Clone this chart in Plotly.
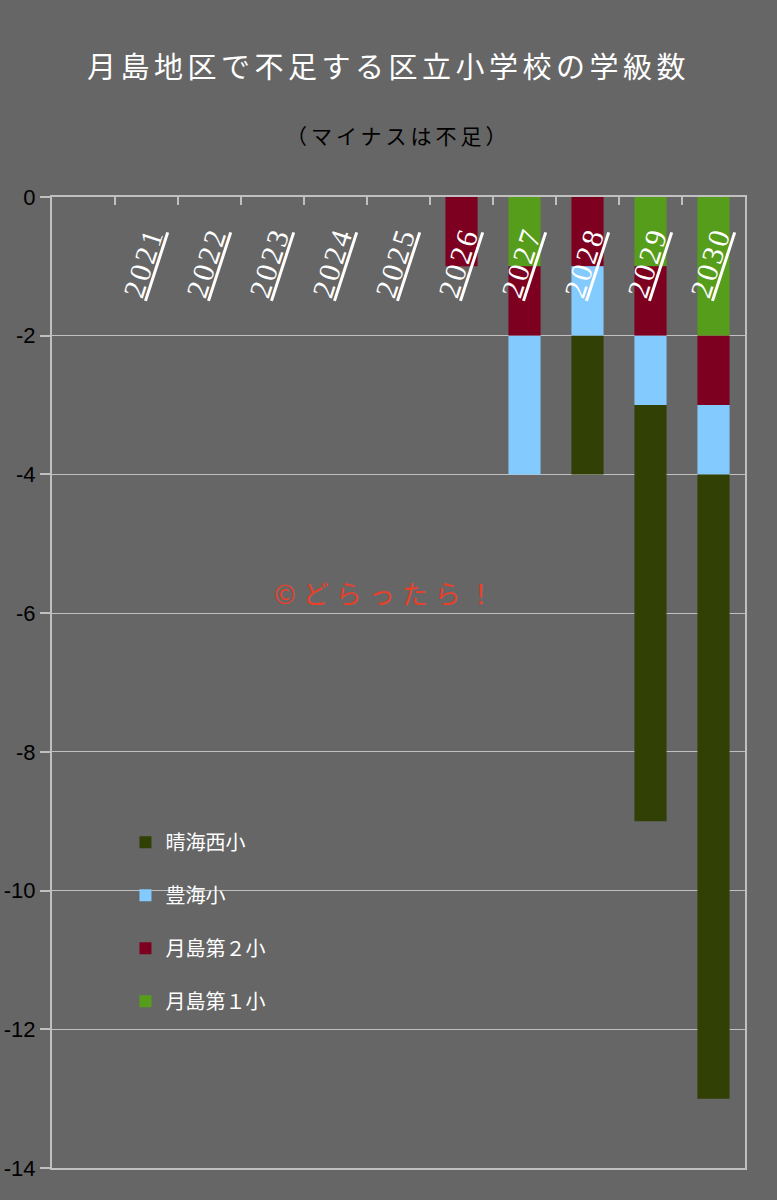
import plotly.graph_objects as go

years = ["2021", "2022", "2023", "2024", "2025", "2026", "2027", "2028", "2029", "2030"]
tsukishima1 = [0, 0, 0, 0, 0, 0, -1, 0, -1, -2]
tsukishima2 = [0, 0, 0, 0, 0, -1, -1, -1, -1, -1]
toyomi = [0, 0, 0, 0, 0, 0, -2, -1, -1, -1]
harumi_nishi = [0, 0, 0, 0, 0, 0, 0, -2, -6, -9]
ytick_vals = [0, -2, -4, -6, -8, -10, -12, -14]
ytick_text = ["0", "-2", "-4", "-6", "-8", "-10", "-12", "-14"]

series = [
    ("月島第１小", tsukishima1, "#579d1c", 4),
    ("月島第２小", tsukishima2, "#7e0021", 3),
    ("豊海小", toyomi, "#83caff", 2),
    ("晴海西小", harumi_nishi, "#314004", 1),
]

xpos = list(range(len(years)))
fig = go.Figure()
for name, vals, col, rank in series:
    fig.add_trace(go.Bar(
        x=xpos, y=vals, name=name, marker=dict(color=col, line=dict(width=0)),
        width=0.51, legendgroup=name, legendrank=rank,
    ))

for i, yr in enumerate(years):
    fig.add_annotation(
        x=i, y=-0.95, xref="x", yref="y",
        text="<span style='text-decoration:underline;text-decoration-thickness:3px;letter-spacing:3px'>" + yr + "</span>",
        textangle=-72, showarrow=False, xshift=-3,
        font=dict(family="Liberation Serif, DejaVu Serif", size=30, color="white"),
    )

fig.add_annotation(
    xref="paper", yref="paper", x=0.4835, y=(1168 - 592) / 971, yanchor="middle",
    text="<span style='letter-spacing:7px'>©どらったら！</span>",
    showarrow=False, font=dict(family="Noto Sans CJK JP", size=26, color="#e8402a"),
)

fig.add_annotation(
    xref="paper", yref="paper", x=0.5, y=1 + (197 - 135) / 971, yanchor="middle",
    text="<span style='letter-spacing:4px'>（マイナスは不足）</span>", showarrow=False,
    font=dict(family="Noto Sans CJK JP", size=21, color="black"),
)

fig.update_layout(
    width=777, height=1200,
    paper_bgcolor="#666666", plot_bgcolor="#666666",
    barmode="relative",
    margin=dict(l=52, r=32, t=197, b=32),
    title=dict(
        text="<span style='letter-spacing:4.5px'>月島地区で不足する区立小学校の学級数</span>",
        x=0.5, xanchor="center", y=1 - 68 / 1200, yanchor="middle",
        font=dict(family="Noto Sans CJK JP", size=29, color="white"),
    ),
    showlegend=True,
    legend=dict(
        x=0.106, y=0.3555, xanchor="left", yanchor="top",
        bgcolor="rgba(0,0,0,0)", traceorder="grouped", tracegroupgap=24,
        font=dict(family="Noto Sans CJK JP", size=20, color="white"),
        itemwidth=30,
    ),
    xaxis=dict(
        range=[-1.5, 9.5], side="top", showgrid=False, zeroline=False,
        showline=True, linecolor="#c0c0c0", linewidth=2, mirror=True,
        tickmode="array", tickvals=[i - 0.5 for i in range(11)], ticktext=[""] * 11,
        ticks="inside", ticklen=8, tickcolor="#c0c0c0", tickwidth=1.5,
        showticklabels=False, automargin=False,
    ),
    yaxis=dict(
        range=[-14, 0], tickmode="array", tickvals=ytick_vals, ticktext=ytick_text,
        showgrid=True, gridcolor="#c0c0c0", gridwidth=1,
        zeroline=False, showline=True, linecolor="#c0c0c0", linewidth=2, mirror=True,
        ticks="outside", ticklen=10, tickcolor="#c0c0c0", tickwidth=1.5,
        tickfont=dict(family="Liberation Sans Narrow, Liberation Sans", size=22, color="black"),
        automargin=False,
    ),
)

fig.write_html("out.html", post_script="document.body.style.margin='0';",
               config={"displayModeBar": False})
